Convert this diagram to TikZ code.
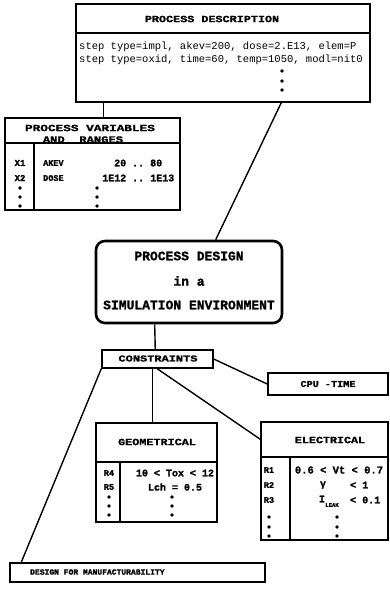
\documentclass[tikz,border=0pt]{standalone}
\usepackage{fontspec}
\setmonofont{Liberation Mono}[BoldFeatures={FakeBold=1.2}]
\usepackage{graphicx}
\newcommand\fsz[1]{\fontsize{#1}{#1}\selectfont}
\newcommand\xs[2]{\scalebox{#1}[1]{#2}}
\begin{document}
\begin{tikzpicture}[x=1pt,y=-1pt,
  box/.style={draw, line width=1.5pt, inner sep=0pt},
  mainbox/.style={draw, line width=2.6pt, rounded corners=9pt, inner sep=0pt},
  sep/.style={line width=1.5pt},
  conn/.style={line width=1.4pt},
  txt/.style={inner sep=0pt, font=\ttfamily\bfseries\fsz{#1}},
  rtxt/.style={inner sep=0pt, font=\ttfamily\fsz{#1}},
  dot/.style={circle, fill, inner sep=0pt, minimum size=3.8pt}]
\fill[white] (0,0) rectangle (390,590);
\useasboundingbox (0,0) rectangle (390,590);

% boxes
\node[box, minimum width=294pt, minimum height=98pt] (pd) at (223,53) {};
\node[box, minimum width=175pt, minimum height=92pt] (var) at (92.5,164) {};
\node[mainbox, minimum width=186pt, minimum height=82pt] (main) at (189,282) {};
\node[box, minimum width=111pt, minimum height=18pt] (con) at (157.5,359) {};
\node[box, minimum width=120pt, minimum height=22pt] (cpu) at (328,384) {};
\node[box, minimum width=121pt, minimum height=99pt] (geo) at (156.5,472.5) {};
\node[box, minimum width=127pt, minimum height=118pt] (ele) at (324.5,481) {};
\node[box, minimum width=255pt, minimum height=19pt] (dfm) at (137.5,572.5) {};

% separators
\coordinate (pdh) at (0,33);
\draw[sep] (pd.west |- pdh) -- (pd.east |- pdh);
\coordinate (varh) at (34,143);
\draw[sep] (var.west |- varh) -- (var.east |- varh);
\draw[sep] (varh) -- (varh |- var.south);
\coordinate (geoh) at (120,462);
\draw[sep] (geo.west |- geoh) -- (geo.east |- geoh);
\draw[sep] (geoh) -- (geoh |- geo.south);
\coordinate (eleh) at (290,457);
\draw[sep] (ele.west |- eleh) -- (ele.east |- eleh);
\draw[sep] (eleh) -- (eleh |- ele.south);

% connectors
\draw[conn] ([xshift=206pt]pd.south west) -- ([xshift=121pt]main.north west);
\draw[conn] ([xshift=28pt]pd.south west) -- ([xshift=99pt]var.north west);
\draw[conn] ([xshift=60pt]main.south west) -- ([xshift=54pt]con.north west);
\draw[conn] (con.east) -- (cpu.west);
\draw[conn] ([xshift=51pt]con.south west) -- ([xshift=57pt]geo.north west);
\draw[conn] ([xshift=56pt]con.south west) -- ([yshift=-18pt]ele.north west);
\draw[conn] (con.south west) -- ([xshift=12pt]dfm.north west);

% process description
\node[txt=9.5] (pdt) at (212,19) {\xs{1.24}{PROCESS DESCRIPTION}};
\node[rtxt=10.5, anchor=west] (pd1) at (79,47) {step type=impl, akev=200, dose=2.E13, elem=P};
\node[rtxt=10.5, anchor=west] (pd2) at (79,60) {step type=oxid, time=60, temp=1050, modl=nit0};
\node[dot] (pdd1) at (282,71) {};
\node[dot] (pdd2) at (282,81) {};
\node[dot] (pdd3) at (282,90) {};

% process variables
\node[txt=9.5] (vt1) at (90,128) {\xs{1.34}{PROCESS VARIABLES}};
\node[txt=9.5] (vt2) at (83,139.5) {\xs{1.28}{AND\ \ RANGES}};
\node[txt=9] (x1) at (20,163) {X1};
\node[txt=9] (x2) at (20,178) {X2};
\node[dot] (xd1) at (20,188) {};
\node[dot] (xd2) at (20,197) {};
\node[dot] (xd3) at (20,206) {};
\node[txt=8.5, anchor=west] (akev) at (43,163) {AKEV};
\node[txt=8.5, anchor=west] (dose) at (43,178) {DOSE};
\node[txt=10, anchor=west] (r1) at (114,163) {20 .. 80};
\node[txt=10, anchor=west] (r2) at (102,178) {1E12 .. 1E13};
\node[dot] (vd1) at (97,188) {};
\node[dot] (vd2) at (97,197) {};
\node[dot] (vd3) at (97,206) {};

% main
\node[txt=13] (m1) at (189,256) {PROCESS DESIGN};
\node[txt=13] (m2) at (189,281) {in a};
\node[txt=13] (m3) at (189,305) {SIMULATION ENVIRONMENT};

% constraints, cpu
\node[txt=9] (cont) at (158,358.5) {\xs{1.33}{CONSTRAINTS}};
\node[txt=9] (cput) at (328,384) {\xs{1.13}{CPU -TIME}};

% geometrical
\node[txt=9.5] (geot) at (157,442) {\xs{1.24}{GEOMETRICAL}};
\node[txt=8.5] (r4) at (109,473) {R4};
\node[txt=8.5] (r5) at (109,487) {R5};
\node[dot] (gd1) at (109,497) {};
\node[dot] (gd2) at (109,506) {};
\node[dot] (gd3) at (109,515) {};
\node[txt=10] (g1) at (175,473) {10 < Tox < 12};
\node[txt=10] (g2) at (175,487) {Lch = 0.5};
\node[dot] (gd4) at (172,497) {};
\node[dot] (gd5) at (172,506) {};
\node[dot] (gd6) at (172,515) {};

% electrical
\node[txt=9.5] (elet) at (330,440) {\xs{1.23}{ELECTRICAL}};
\node[txt=8.5] (er1) at (269,470) {R1};
\node[txt=8.5] (er2) at (269,485) {R2};
\node[txt=8.5] (er3) at (269,500) {R3};
\node[dot] (ed1) at (269,517) {};
\node[dot] (ed2) at (269,527) {};
\node[dot] (ed3) at (269,536) {};
\node[txt=10.5] (e1) at (339,470) {0.6 < Vt < 0.7};
\node[txt=10] (e2a) at (323,485) {γ};
\node[txt=10, anchor=west] (e2b) at (350,485) {< 1};
\node[txt=10] (e3a) at (322,499) {I};
\node[txt=5.5] (e3s) at (332,505) {LEAK};
\node[txt=10, anchor=west] (e3b) at (350,500) {< 0.1};
\node[dot] (ed4) at (337,517) {};
\node[dot] (ed5) at (337,527) {};
\node[dot] (ed6) at (337,536) {};

% design for manufacturability
\node[txt=8, anchor=west] (dfmt) at (30,572) {DESIGN FOR MANUFACTURABILITY};
\end{tikzpicture}
\end{document}
